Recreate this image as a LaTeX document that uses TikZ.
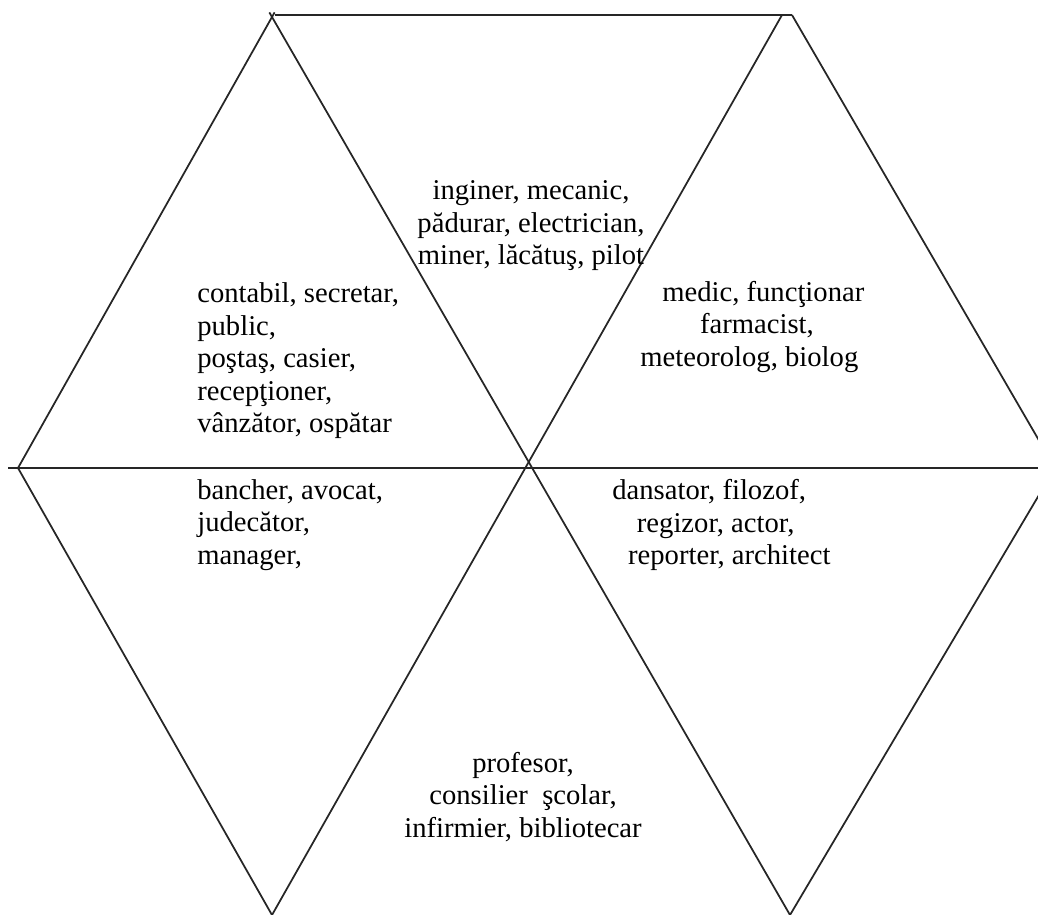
\documentclass[tikz,border=0pt]{standalone}
\usepackage{fontspec}
\setmainfont{Liberation Serif}
\begin{document}
\begin{tikzpicture}[x=0.02cm,y=-0.02cm,
  edge/.style={line width=1pt,black!85},
  lbl/.style={inner sep=0pt,font=\fontsize{16.3}{18.5}\selectfont}]
\useasboundingbox (0,0) rectangle (1038,915);
\clip (0,0) rectangle (1038,915);
% vertices
\coordinate (TL) at (272,17);
\coordinate (TRa) at (782,15);
\coordinate (TRb) at (792,15);
\coordinate (TLb) at (275,15);
\coordinate (L) at (18,468);
\coordinate (R) at (1055,468);
\coordinate (BL) at (272,915);
\coordinate (BR) at (790,915);
\coordinate (C) at (525,468);
\coordinate (HL) at (8,468);
\coordinate (HR) at (1038,468);
% edges
\draw[edge] (TLb) -- (TRb);
\draw[edge] (HL) -- (HR);
\draw[edge,shorten >=-3pt] (L) -- (TL);
\draw[edge,shorten >=-3pt] (BR) -- (TL);
\draw[edge] (BL) -- (TRa);
\draw[edge] (L) -- (BL);
\draw[edge] (TRb) -- (R);
\draw[edge] (R) -- (BR);
% labels
\node[lbl,align=center] (top) at (531,226) {inginer, mecanic,\\pădurar, electrician,\\miner, lăcătuş, pilot};
\node[lbl,align=left,anchor=west] (left) at (197,361) {contabil, secretar,\\public,\\poştaş, casier,\\recepţioner,\\vânzător, ospătar};
\node[lbl,align=left,anchor=west] (right) at (640,327) {\hspace*{12.5pt}medic, funcţionar\\\hspace*{34pt}farmacist,\\meteorolog, biolog};
\node[lbl,align=left,anchor=west] (bleft) at (197,525) {bancher, avocat,\\judecător,\\manager,};
\node[lbl,align=left,anchor=west] (bright) at (612,525) {dansator, filozof,\\\hspace*{14pt}regizor, actor,\\\hspace*{9pt}reporter, architect};
\node[lbl,align=center] (bottom) at (523,797) {profesor,\\consilier~ şcolar,\\infirmier, bibliotecar};
\end{tikzpicture}
\end{document}
